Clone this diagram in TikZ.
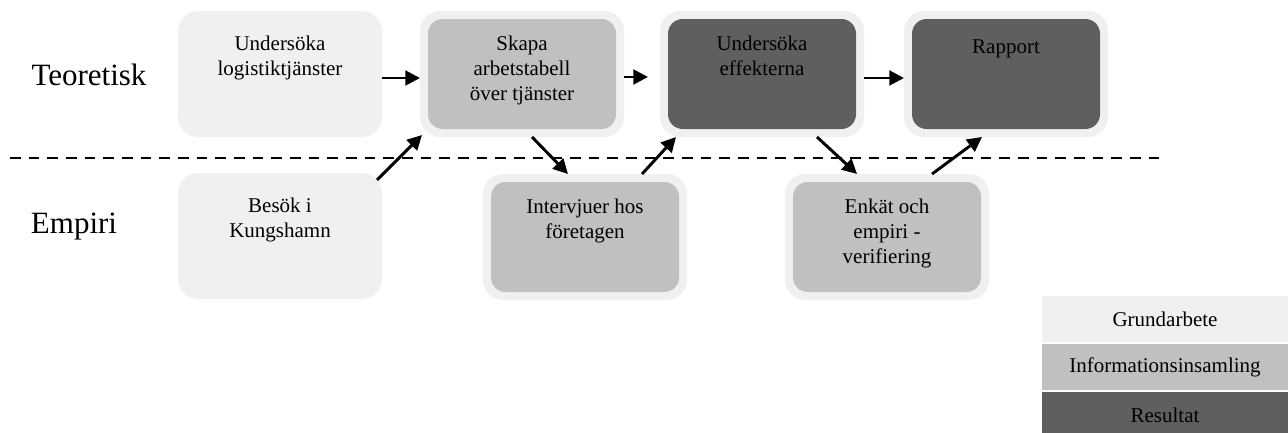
\documentclass[tikz,border=0pt]{standalone}
\usepackage{fontspec}
\setmainfont{Liberation Serif}
\usetikzlibrary{positioning,arrows.meta,calc}
\usepackage{xcolor}
\definecolor{grund}{HTML}{F0F0F0}
\definecolor{insaml}{HTML}{C0C0C0}
\definecolor{result}{HTML}{5F5F5F}

\tikzset{
    outerbox/.style={rounded corners=15pt, minimum width=153pt, minimum height=94.5pt,
        inner sep=0pt, outer sep=0pt, fill=grund},
    innerbox/.style={rounded corners=11pt, minimum width=141pt, minimum height=82.5pt,
        inner sep=0pt, outer sep=0pt},
    boxtext/.style={anchor=north, align=center, inner sep=0pt,
        font=\fontsize{15.75}{18.75}\selectfont, execute at begin node=\strut},
    rowlabel/.style={anchor=base, inner sep=0pt, font=\fontsize{23.25}{28}\selectfont},
    legbox/.style={minimum width=184.5pt, minimum height=34.5pt, inner sep=0pt,
        font=\fontsize{15.75}{18.75}\selectfont},
    arr/.style={line width=2.2pt, -{Triangle[length=11pt, width=11pt]}}
}

\begin{document}
\begin{tikzpicture}[x=0.75pt, y=-0.75pt]
    \useasboundingbox (0,0) rectangle (1288,432);

    % =========================================================
    % ROW LABELS AND SEPARATOR
    % =========================================================
    \node[rowlabel] (teo) at (89, 85) {Teoretisk};
    \node[rowlabel] (emp) at (74, 233) {Empiri};
    \draw[line width=2.2pt, dash pattern=on 8pt off 6pt] (10, 158) -- (1160, 158);

    % =========================================================
    % BOXES
    % =========================================================
    % Grundarbete
    \node[outerbox] (b1) at (280, 74) {};
    \node[outerbox] (b5) at (280, 236) {};

    % Informationsinsamling
    \node[outerbox] (b2) at (522, 74) {};
    \node[innerbox, fill=insaml] (b2i) at (b2) {};
    \node[outerbox] (b6) at (585, 237) {};
    \node[innerbox, fill=insaml] (b6i) at (b6) {};
    \node[outerbox] (b7) at (887, 237) {};
    \node[innerbox, fill=insaml] (b7i) at (b7) {};

    % Resultat
    \node[outerbox] (b3) at (762, 74) {};
    \node[innerbox, fill=result] (b3i) at (b3) {};
    \node[outerbox] (b4) at (1006, 74) {};
    \node[innerbox, fill=result] (b4i) at (b4) {};

    % Texts, anchored at the top of each box
    \node[boxtext] (t1) at ($(b1.north)+(0,24.5)$) {Undersöka\\logistiktjänster};
    \node[boxtext] (t2) at ($(b2.north)+(0,24.5)$) {Skapa\\arbetstabell\\över tjänster};
    \node[boxtext] (t3) at ($(b3.north)+(0,24.5)$) {Undersöka\\effekterna};
    \node[boxtext] (t4) at ($(b4.north)+(0,24.5)$) {Rapport};
    \node[boxtext] (t5) at ($(b5.north)+(0,24.5)$) {Besök i\\Kungshamn};
    \node[boxtext] (t6) at ($(b6.north)+(0,24.5)$) {Intervjuer hos\\företagen};
    \node[boxtext] (t7) at ($(b7.north)+(0,24.5)$) {Enkät och\\empiri -\\verifiering};

    % =========================================================
    % ARROWS
    % =========================================================
    \draw[arr] ($(b1.east)+(0,4)$) -- ($(b2.west)+(0,4)$);
    \draw[arr] ($(b2.east)+(0,3)$) -- ($(b3.west)+(-12,3)$);
    \draw[arr] ($(b3.east)+(0,4)$) -- ($(b4.west)+(0,4)$);
    \draw[arr] ($(b5.north east)+(-5,7)$) -- ($(b2.south west)+(2,-2)$);
    \draw[arr] ($(b2.south)+(10,0)$) -- ($(b6.north)+(-17,0)$);
    \draw[arr] ($(b6.north)+(57,0)$) -- ($(b3.south west)+(16,0)$);
    \draw[arr] ($(b3.south)+(55,0)$) -- ($(b7.north)+(-30,0)$);
    \draw[arr] ($(b7.north)+(45,0)$) -- ($(b4.south)+(-24,0)$);

    % =========================================================
    % LEGEND
    % =========================================================
    \node[legbox, fill=grund] (lg1) at (1165, 319) {Grundarbete};
    \node[legbox, fill=insaml] (lg2) at (1165, 367) {Informationsinsamling};
    \node[legbox, fill=result] (lg3) at (1165, 415) {Resultat};
\end{tikzpicture}
\end{document}
